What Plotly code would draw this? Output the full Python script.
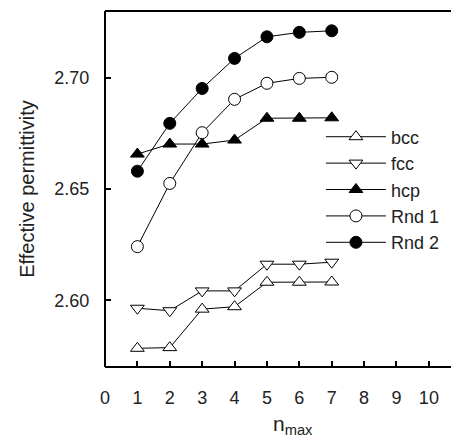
import plotly.graph_objects as go

n_max = [1, 2, 3, 4, 5, 6, 7]
bcc = [2.5784, 2.5787, 2.5960, 2.5971, 2.6081, 2.6081, 2.6082]
fcc = [2.5964, 2.5953, 2.6042, 2.6042, 2.6162, 2.6162, 2.6171]
hcp = [2.6657, 2.6702, 2.6702, 2.6720, 2.6818, 2.6818, 2.6820]
rnd1 = [2.6241, 2.6525, 2.6753, 2.6903, 2.6975, 2.6997, 2.7002]
rnd2 = [2.6580, 2.6795, 2.6952, 2.7087, 2.7184, 2.7204, 2.7211]

x_ticks = [0, 1, 2, 3, 4, 5, 6, 7, 8, 9, 10]
y_ticks = [2.60, 2.65, 2.70]

FONT = "Liberation Sans, Arial, sans-serif"
TXT = "#222222"

series = [
    ("bcc", bcc, "triangle-up", "white", 12),
    ("fcc", fcc, "triangle-down", "white", 12),
    ("hcp", hcp, "triangle-up", "black", 12),
    ("Rnd 1", rnd1, "circle", "white", 12),
    ("Rnd 2", rnd2, "circle", "black", 12),
]

fig = go.Figure()
for name, vals, sym, fill, size in series:
    fig.add_trace(go.Scatter(
        x=n_max, y=vals, name=name, mode="lines+markers",
        line=dict(color="black", width=1),
        marker=dict(symbol=sym, size=size, color=fill,
                    line=dict(color="black", width=1)),
    ))

frame = dict(color="black", width=2)
shapes = [
    dict(type="line", xref="paper", yref="paper", x0=0, x1=0, y0=0, y1=1, line=frame),
    dict(type="line", xref="paper", yref="paper", x0=0, x1=1, y0=0, y1=0, line=frame),
    dict(type="line", xref="paper", yref="paper", x0=0, x1=1, y0=1, y1=1, line=frame),
]

# page body has an 8px margin, so the figure is 8px smaller than the window
fig.update_layout(
    width=451, height=434,
    margin=dict(l=97, r=0, t=3, b=75, autoexpand=False),
    paper_bgcolor="white", plot_bgcolor="white",
    font=dict(family=FONT, size=18, color=TXT),
    showlegend=True,
    shapes=shapes,
    legend=dict(
        x=0.61, y=0.698, xanchor="left", yanchor="top",
        bgcolor="rgba(0,0,0,0)", borderwidth=0,
        font=dict(family=FONT, size=18, color=TXT),
        itemwidth=60, tracegroupgap=0,
    ),
    xaxis=dict(
        range=[0, 10.93], tickvals=x_ticks, ticks="outside", ticklen=14,
        tickcolor="rgba(0,0,0,0)", showline=False, mirror=False,
        showgrid=False, zeroline=False,
        automargin=False, tickfont=dict(size=18, color=TXT),
        minor=dict(tickvals=x_ticks, ticks="inside", ticklen=6, tickwidth=1.5,
                   tickcolor="black", showgrid=False),
    ),
    yaxis=dict(
        range=[2.570, 2.730], tickvals=y_ticks, tickformat=".2f",
        ticks="outside", ticklen=11, tickcolor="rgba(0,0,0,0)",
        showline=False, mirror=False,
        showgrid=False, zeroline=False, automargin=False,
        tickfont=dict(size=18, color=TXT),
        minor=dict(tickvals=y_ticks, ticks="inside", ticklen=6, tickwidth=1.5,
                   tickcolor="black", showgrid=False),
        title=dict(text="Effective permittivity", font=dict(size=20, color=TXT),
                   standoff=14),
    ),
    annotations=[dict(
        text="n<sub>max</sub>", xref="paper", yref="paper",
        x=0.53, y=-0.12, xanchor="center", yanchor="top", showarrow=False,
        font=dict(family=FONT, size=21, color=TXT),
    )],
)

fig.write_html("out.html")
